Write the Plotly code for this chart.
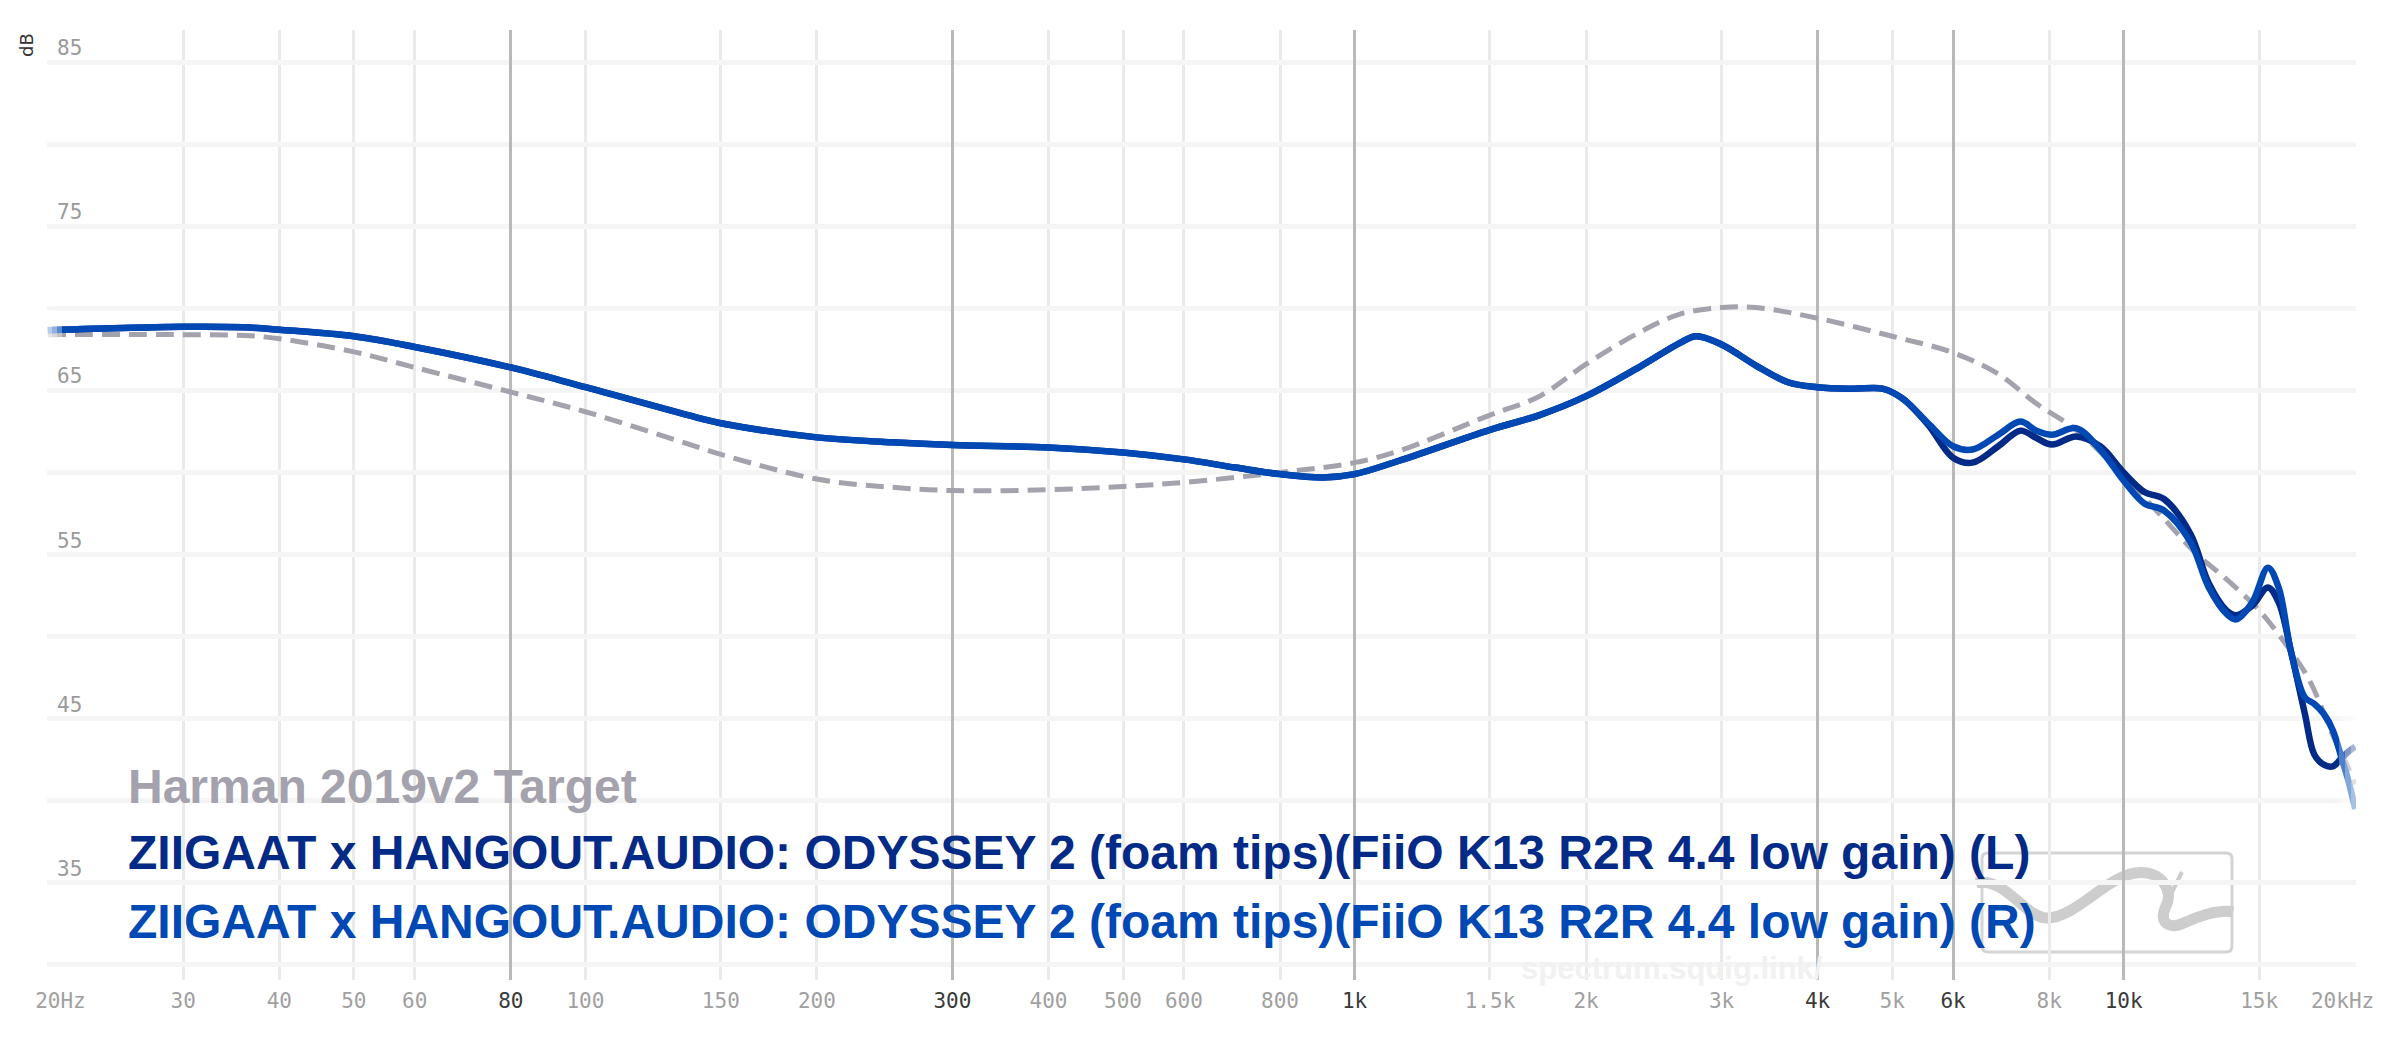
import math
import plotly.graph_objects as go

# ---- data ----
target_name = "Harman 2019v2 Target"
target_freq = [20, 30, 36, 40, 50, 60, 80, 100, 141, 150, 200, 250, 300, 400, 500, 600, 800,
               1000, 1140, 1500, 1740, 2000, 2360, 2650, 3000, 3330, 4000, 5000, 6000, 6870,
               7700, 8670, 10000, 11270, 12400, 13600, 15000, 16500, 17500, 18700, 19600, 20000]
target_db = [68.4, 68.4, 68.35, 68.15, 67.35, 66.4, 64.9, 63.7, 61.5, 61.1, 59.6, 59.1, 58.9,
             58.95, 59.15, 59.4, 60.0, 60.6, 61.3, 63.5, 64.65, 66.6, 68.6, 69.65, 70.05, 70.05,
             69.4, 68.3, 67.3, 66.0, 64.2, 62.6, 59.8, 57.2, 55.1, 53.5, 51.6, 49.1, 47.2, 44.0,
             42.0, 41.0]

iem_name = "ZIIGAAT x HANGOUT.AUDIO: ODYSSEY 2 (foam tips)(FiiO K13 R2R 4.4 low gain)"
iem_freq = [20, 30, 36, 40, 50, 60, 80, 100, 141, 150, 200, 250, 300, 400, 500, 600, 700, 800,
            910, 1000, 1140, 1500, 1740, 2000, 2360, 2650, 2780, 3000, 3330, 3660, 4000, 4430,
            4870, 5160, 5570, 6000, 6360, 6870, 7340, 7700, 8070, 8670, 9320, 10000, 10650,
            11270, 12200, 12900, 13600, 14000, 14700, 15400, 15900, 16500, 17200, 17700, 18200,
            18700, 19200, 19600, 20000]
left_db = [68.67, 68.88, 68.85, 68.7, 68.3, 67.65, 66.4, 65.2, 63.3, 63.0, 62.14, 61.84, 61.67,
           61.53, 61.22, 60.8, 60.3, 59.9, 59.7, 59.9, 60.7, 62.6, 63.5, 64.65, 66.5, 67.9, 68.3,
           67.8, 66.5, 65.5, 65.2, 65.1, 65.1, 64.5, 62.9, 60.9, 60.6, 61.6, 62.55, 62.1, 61.7,
           62.2, 61.6, 60.0, 58.8, 58.4, 56.3, 53.25, 51.6, 51.3, 51.9, 53.0, 52.1, 49.1, 45.3,
           42.8, 42.2, 42.1, 42.6, 43.0, 43.3]
right_db = [68.67, 68.88, 68.85, 68.7, 68.3, 67.65, 66.4, 65.2, 63.3, 63.0, 62.14, 61.84, 61.67,
            61.53, 61.22, 60.8, 60.3, 59.9, 59.7, 59.9, 60.7, 62.6, 63.5, 64.65, 66.5, 67.9, 68.3,
            67.8, 66.5, 65.5, 65.2, 65.1, 65.1, 64.5, 63.0, 61.6, 61.4, 62.3, 63.1, 62.55, 62.3,
            62.7, 61.4, 59.5, 58.1, 57.7, 55.8, 53.0, 51.4, 51.05, 52.1, 54.2, 53.0, 49.1, 46.3,
            45.9, 45.3, 44.3, 42.6, 41.2, 39.5]

# axis ticks
tick_freqs = [20, 30, 40, 50, 60, 80, 100, 150, 200, 300, 400, 500, 600, 800, 1000, 1500,
              2000, 3000, 4000, 5000, 6000, 8000, 10000, 15000, 20000]
tick_labels = ["20Hz", "30", "40", "50", "60", "80", "100", "150", "200", "300", "400", "500",
               "600", "800", "1k", "1.5k", "2k", "3k", "4k", "5k", "6k", "8k", "10k", "15k", "20kHz"]
strong_ticks = [80, 300, 1000, 4000, 6000, 10000]
db_ticks = [35, 45, 55, 65, 75, 85]

# colours
C_TARGET = "#a4a2ac"
C_LEFT = "#022a86"
C_RIGHT = "#0049b5"

# plot area in pixels (used only for decoration placement)
W, H = 2400, 1038
L_M, R_M, T_M, B_M = 47, 44, 30, 58
PW, PH = W - L_M - R_M, H - T_M - B_M


def px(x, y):
    return (x - L_M) / PW, (H - B_M - y) / PH


def path(cmds):
    out = []
    for c in cmds:
        if isinstance(c, str):
            out.append(c)
        else:
            xx, yy = px(*c)
            out.append(f"{xx:.5f},{yy:.5f}")
    return " ".join(out)


tick_text = []
for f, lab in zip(tick_freqs, tick_labels):
    if f == 20:
        lab = "\u00a0\u00a0" + lab
    elif f == 20000:
        lab = lab + "\u00a0\u00a0"
    col = "#3a3a3a" if f in strong_ticks else "#a0a0a0"
    tick_text.append(f'<span style="color:{col}">{lab}</span>')

light_grid = [f for f in tick_freqs[1:-1] if f not in strong_ticks]

fig = go.Figure()

# invisible helper so the second x axis (dark grid lines) gets drawn
fig.add_trace(go.Scatter(x=strong_ticks, y=[60] * len(strong_ticks), xaxis="x2",
                         mode="markers", marker=dict(opacity=0), hoverinfo="skip",
                         showlegend=False))

fig.add_trace(go.Scatter(x=target_freq, y=target_db, name=target_name, mode="lines",
                         line=dict(color=C_TARGET, width=5, dash="18px,9px", shape="spline")))
fig.add_trace(go.Scatter(x=iem_freq, y=left_db, name=iem_name + " (L)", mode="lines",
                         line=dict(color=C_LEFT, width=6.5, shape="spline")))
fig.add_trace(go.Scatter(x=iem_freq, y=right_db, name=iem_name + " (R)", mode="lines",
                         line=dict(color=C_RIGHT, width=6.5, shape="spline")))

eps = 1e-3
xr = [math.log10(20) - eps, math.log10(20000) + eps]

fig.update_layout(
    width=W, height=H,
    margin=dict(l=L_M, r=R_M, t=T_M, b=B_M, autoexpand=False),
    paper_bgcolor="white", plot_bgcolor="white",
    showlegend=False,
    xaxis=dict(type="log", range=xr, tickmode="array", tickvals=tick_freqs, ticktext=tick_text,
               tickfont=dict(family="DejaVu Sans Mono", size=21, color="#a0a0a0"),
               showgrid=False, zeroline=False, showline=False, ticks="", automargin=False,
               ticklabelstandoff=6, ticklabeloverflow="allow",
               minor=dict(tickmode="array", tickvals=light_grid, showgrid=True,
                          gridcolor="#eaeaea", gridwidth=3, ticks="")),
    xaxis2=dict(type="log", range=xr, overlaying="x", tickmode="array", tickvals=strong_ticks,
                showticklabels=False, showgrid=True, gridcolor="#b9b9b9", gridwidth=3,
                zeroline=False, showline=False, ticks="", automargin=False),
    yaxis=dict(range=[29.08, 86.96], tickmode="array", tickvals=db_ticks,
               showticklabels=False,
               showgrid=True, gridcolor="#f5f5f5", gridwidth=5, zeroline=False,
               showline=False, ticks="", automargin=False,
               minor=dict(tick0=0, dtick=5, showgrid=True, gridcolor="#f5f5f5", gridwidth=5,
                          ticks="")),
)

# dB labels sit inside the plot, just above their grid line
for v in db_ticks:
    fig.add_annotation(text=str(v), xref="paper", yref="y", x=px(55, 0)[0], y=v,
                       xanchor="left", yanchor="middle", yshift=14, showarrow=False,
                       font=dict(family="DejaVu Sans Mono", size=21, color="#9a9a9a"))

# soft fade of the curves at both ends
for x_end in (52, 57, 62):
    x0, y0 = px(47, 380)
    x1, y1 = px(x_end, 310)
    fig.add_shape(type="rect", xref="paper", yref="paper", x0=x0, x1=x1, y0=y0, y1=y1,
                  fillcolor="rgba(255,255,255,0.35)", line=dict(width=0), layer="above")
for x_start in (2351, 2345, 2339):
    x0, y0 = px(x_start, 870)
    x1, y1 = px(2360, 690)
    fig.add_shape(type="rect", xref="paper", yref="paper", x0=x0, x1=x1, y0=y0, y1=y1,
                  fillcolor="rgba(255,255,255,0.3)", line=dict(width=0), layer="above")

# watermark: logo box + squiggle + site name
logo_box = path(["M", (1988, 853), "L", (2226, 853), "Q", (2232, 853), (2232, 859),
                 "L", (2232, 946), "Q", (2232, 952), (2226, 952), "L", (1988, 952),
                 "Q", (1982, 952), (1982, 946), "L", (1982, 859), "Q", (1982, 853),
                 (1988, 853), "Z"])
squiggle = path(["M", (1976, 883), "C", (2005, 876), (2025, 918), (2047, 918),
                 "C", (2075, 918), (2105, 878), (2135, 873),
                 "C", (2162, 869), (2174, 892), (2166, 906),
                 "C", (2158, 924), (2170, 930), (2186, 922),
                 "C", (2202, 915), (2220, 909), (2233, 912)])
tick_mark = path(["M", (2182, 872), "L", (2170, 896)])

fig.add_shape(type="path", path=logo_box, xref="paper", yref="paper",
              line=dict(color="#d4d4d4", width=3), layer="below")
fig.add_shape(type="path", path=squiggle, xref="paper", yref="paper",
              line=dict(color="#cdcdcd", width=11), layer="below")
fig.add_shape(type="path", path=tick_mark, xref="paper", yref="paper",
              line=dict(color="#cdcdcd", width=4), layer="below")

fig.add_annotation(text="spectrum.squig.link/", xref="paper", yref="paper",
                   x=px(1672, 968)[0], y=px(1672, 968)[1], xanchor="center", yanchor="middle",
                   showarrow=False,
                   font=dict(family="Liberation Sans", size=31, color="#f1f1f1", weight="bold"))

# y axis unit
fig.add_annotation(text="dB", xref="paper", yref="paper", x=px(26, 45)[0], y=px(26, 45)[1],
                   textangle=-90, showarrow=False, xanchor="center", yanchor="middle",
                   font=dict(family="DejaVu Sans", size=18, color="#333333"))

# legend as coloured text lines
legend_rows = [(target_name, C_TARGET, 786), (iem_name + " (L)", C_LEFT, 852),
               (iem_name + " (R)", C_RIGHT, 921)]
for txt, col, yy in legend_rows:
    xp, yp = px(126, yy)
    fig.add_annotation(text=txt, xref="paper", yref="paper", x=xp, y=yp, xanchor="left",
                       yanchor="middle", showarrow=False,
                       font=dict(family="Liberation Sans", size=48, color=col, weight="bold"))

fig.write_html("out.html", config={"displayModeBar": False},
               post_script="document.body.style.margin='0';")
